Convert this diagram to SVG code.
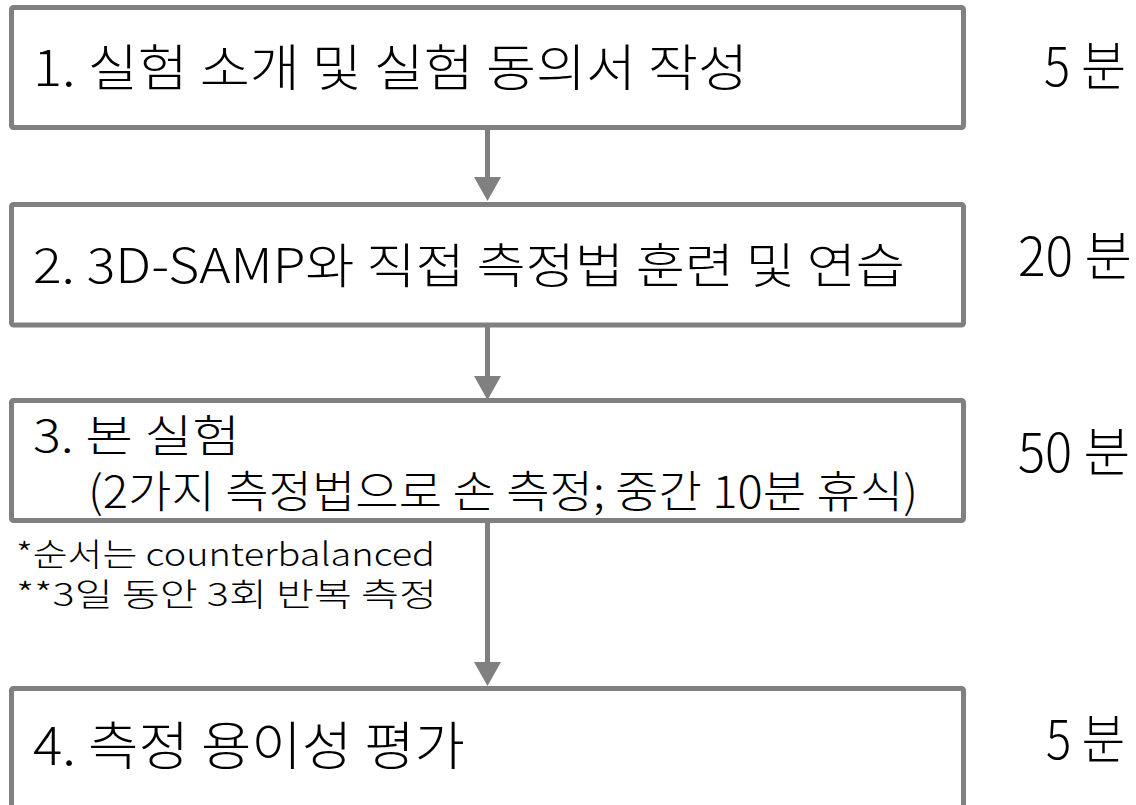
<svg xmlns="http://www.w3.org/2000/svg" width="1136" height="805" viewBox="0 0 1136 805">
<style>
.box{fill:#fff;stroke:#808080;stroke-width:5}
.t{font-family:"Noto Sans CJK KR","Noto Sans",sans-serif;fill:#000;font-weight:300}
.conn{stroke:#808080;stroke-width:5;fill:none}
.head{fill:#808080}
</style>
<rect width="1136" height="805" fill="#fff"/>
<g id="connectors">
<line class="conn" x1="487.5" y1="130" x2="487.5" y2="180"/>
<polygon class="head" points="474,177 501,177 487.5,201"/>
<line class="conn" x1="487.5" y1="327" x2="487.5" y2="380"/>
<polygon class="head" points="474,376 501,376 487.5,400"/>
<line class="conn" x1="487.5" y1="523" x2="487.5" y2="665"/>
<polygon class="head" points="474,662 501,662 487.5,686"/>
</g>
<g id="node1">
<rect class="box" x="11.5" y="7.5" width="952" height="120" rx="2"/>
<text class="t" x="33" y="86" font-size="50" textLength="715" lengthAdjust="spacingAndGlyphs">1. 실험 소개 및 실험 동의서 작성</text>
<text class="t" x="1044" y="86" font-size="53" textLength="82" lengthAdjust="spacingAndGlyphs">5 분</text>
</g>
<g id="node2">
<rect class="box" x="11.5" y="204.5" width="952" height="120.5" rx="2"/>
<text class="t" x="33" y="283" font-size="48" textLength="872" lengthAdjust="spacingAndGlyphs">2. 3D-SAMP와 직접 측정법 훈련 및 연습</text>
<text class="t" x="1018" y="276" font-size="53" textLength="114" lengthAdjust="spacingAndGlyphs">20 분</text>
</g>
<g id="node3">
<rect class="box" x="11.5" y="400.5" width="952" height="120" rx="2"/>
<text class="t" x="33" y="452" font-size="44" textLength="207" lengthAdjust="spacingAndGlyphs">3. 본 실험</text>
<text class="t" x="88" y="508" font-size="44" textLength="830" lengthAdjust="spacingAndGlyphs">(2가지 측정법으로 손 측정; 중간 10분 휴식)</text>
<text class="t" x="1018" y="472" font-size="53" textLength="112" lengthAdjust="spacingAndGlyphs">50 분</text>
</g>
<g id="note">
<text class="t" font-size="32"><tspan x="16" y="566" textLength="419" lengthAdjust="spacingAndGlyphs">*순서는 counterbalanced</tspan><tspan x="16" y="606" textLength="421" lengthAdjust="spacingAndGlyphs">**3일 동안 3회 반복 측정</tspan></text>
</g>
<g id="node4">
<rect class="box" x="11.5" y="688.5" width="952" height="125" rx="2"/>
<text class="t" x="33" y="765" font-size="52" textLength="432" lengthAdjust="spacingAndGlyphs">4. 측정 용이성 평가</text>
<text class="t" x="1046" y="759" font-size="53" textLength="79" lengthAdjust="spacingAndGlyphs">5 분</text>
</g>
</svg>
